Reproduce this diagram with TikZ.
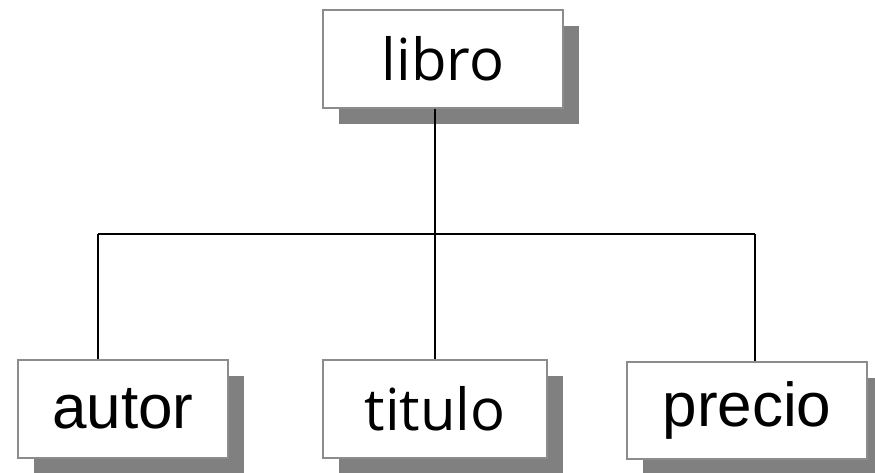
\documentclass[tikz,border=0pt]{standalone}
\usepackage{fontspec}
\setmainfont{Liberation Sans}
\newfontfamily\opensans{Open Sans}
\usetikzlibrary{shadows}
\definecolor{boxline}{HTML}{8C8C8C}
\definecolor{shade}{HTML}{808080}
\begin{document}
\begin{tikzpicture}[x=1bp,y=-1bp,
  treebox/.style={draw=boxline, line width=1.6bp, fill=white, inner sep=0pt,
    minimum height=98bp,
    drop shadow={shadow xshift=16bp, shadow yshift=-16bp, fill=shade, opacity=1}},
  bigtext/.style={font=\fontsize{62bp}{70bp}\selectfont},
  humtext/.style={font=\opensans\fontsize{58bp}{66bp}\selectfont},
  link/.style={line width=1.6bp, black}]
\useasboundingbox (0,0) rectangle (875,473);

% tree nodes
\node[treebox, humtext, minimum width=240bp] (libro) at (443,59) {libro};
\node[treebox, bigtext, minimum width=210bp] (autor) at (123,409) {autor};
\node[treebox, humtext, minimum width=224bp] (titulo) at (435,409) {titulo};
\node[treebox, bigtext, minimum width=240bp, minimum height=97bp] (precio) at (747,410.5) {precio};

% branch points on the horizontal bar
\coordinate (ja) at (98,234);
\coordinate (jt) at (435,234);
\coordinate (jp) at (755,234);

% connectors
\draw[link] (libro.south -| jt) -- (titulo.north);
\draw[link] (ja) -- (jp);
\draw[link] (ja) -- (ja |- autor.north);
\draw[link] (jp) -- (jp |- precio.north);
\end{tikzpicture}
\end{document}
